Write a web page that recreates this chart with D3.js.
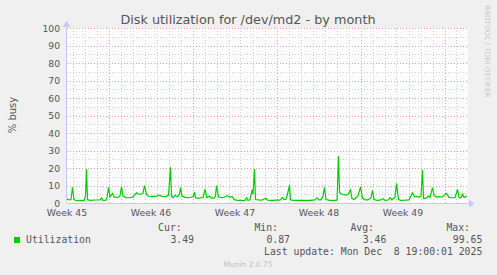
<!DOCTYPE html>
<html>
<head>
<meta charset="utf-8">
<script src="https://cdn.jsdelivr.net/npm/d3@7"></script>
<style>
  body { margin: 0; background: #f0f0f0; }
  svg { display: block; }
  text { font-family: "DejaVu Sans", sans-serif; fill: #555; }
  .mono { font-family: "DejaVu Sans Mono", monospace; }
</style>
</head>
<body>
<svg id="chart"></svg>
<script>
// hours since start of graph window (Nov 5 2025 19:00 -> Dec 8 2025 19:00)
const hours = [0, 4, 8, 11, 14, 18, 26, 34, 37, 39, 41, 46, 56, 66, 69, 72, 78, 80, 83, 86,
  91, 94, 98, 102, 106, 109, 112, 118, 126, 132, 139, 143, 147, 152, 155, 159, 162, 170, 178, 184,
  190, 198, 203, 207, 209, 212, 216, 220, 225, 227, 230, 236, 242, 248, 252, 255, 257, 262, 268, 272,
  276, 280, 285, 289, 294, 297, 299, 303, 308, 314, 321, 326, 330, 334, 340, 346, 352, 356, 359, 362,
  366, 370, 372, 375, 377, 383, 390, 398, 401, 410, 418, 426, 431, 434, 438, 441, 445, 447, 452, 466,
  476, 486, 496, 500, 504, 508, 512, 515, 518, 526, 534, 540, 543, 545, 550, 554, 558, 562, 567, 570,
  574, 578, 582, 587, 591, 596, 602, 608, 611, 614, 620, 626, 632, 636, 642, 646, 650, 656, 659, 663,
  668, 676, 684, 691, 695, 699, 704, 708, 711, 713, 718, 723, 726, 731, 734, 738, 744, 750, 759, 764,
  770, 776, 781, 784, 788, 791, 794, 797, 800];
const busy = [2.2, 1.8, 2, 9, 2, 1.3, 1.5, 1.4, 4, 19.3, 2, 1.5, 1.7, 1.8, 3, 1.5, 1.6, 3, 9, 3.5,
  5.5, 3.5, 3.2, 3.3, 4, 9.3, 4, 3, 3, 3.5, 5.8, 5, 5, 5.5, 9.9, 5, 4, 3.8, 3.8, 4.5,
  3.8, 3.7, 4.5, 20.4, 4, 3, 4.5, 3.5, 5, 9, 4, 3.2, 3, 3.3, 3.5, 6.2, 3, 2.7, 3, 3,
  7.8, 3, 4, 2.8, 2.8, 4, 9.9, 3.5, 3, 3.3, 4.2, 3.2, 3.7, 2, 1.5, 1.5, 1.4, 1.6, 3, 1.5,
  1.8, 7.5, 5, 19.4, 2, 1.8, 1.7, 2.7, 1.6, 1.5, 1.6, 1.6, 3.2, 2, 2.2, 5, 10.2, 1.8, 1.5, 1.5,
  1.5, 1.5, 1.8, 3, 1.8, 1.8, 4, 9, 2, 1.5, 1.5, 1.6, 26.9, 6, 5, 4.8, 4.5, 5, 7.5, 2.5,
  2, 3, 4, 9.2, 2.8, 1.8, 1.8, 3, 7.2, 2, 1.5, 1.6, 2.5, 1.5, 1.7, 3, 1.8, 3.5, 11.2, 2,
  1.5, 1.6, 1.8, 5.8, 3.5, 3.8, 3.3, 4, 18.9, 2.5, 2.8, 4, 3.2, 8.8, 4.5, 3.5, 3.6, 3.3, 5.5, 3.2,
  3, 3, 7.8, 3.2, 3, 5, 3.3, 3.5, 4];

const weekLabels = ["Week 45", "Week 46", "Week 47", "Week 48", "Week 49"];
const weekLabelHours = [0, 168, 336, 504, 672];
const weekGridHours = [83, 251, 419, 587, 755];
const yTicks = [0, 10, 20, 30, 40, 50, 60, 70, 80, 90, 100];

const legendHeads = ["Cur:", "Min:", "Avg:", "Max:"];
const legendValues = ["3.49", "0.87", "3.46", "99.65"];

const width = 497, height = 275;
const svg = d3.select("#chart").attr("width", width).attr("height", height);

const x = d3.scaleLinear().domain([0, 802]).range([67, 468]);
const y = d3.scaleLinear().domain([0, 100]).range([203, 28]);

// plot background
svg.append("rect").attr("x", 67).attr("y", 28).attr("width", 401).attr("height", 175).attr("fill", "#fff");

// minor grid
const minorX = d3.range(11, 802, 24);
svg.append("g").selectAll("line").data(minorX).enter().append("line")
  .attr("x1", d => Math.round(x(d)) + 0.5).attr("x2", d => Math.round(x(d)) + 0.5)
  .attr("y1", 28).attr("y2", 203)
  .attr("stroke", "#d0d0d0").attr("stroke-dasharray", "1,2");
const minorY = d3.range(5, 100, 10);
svg.append("g").selectAll("line").data(minorY).enter().append("line")
  .attr("x1", 67).attr("x2", 468)
  .attr("y1", d => Math.round(y(d)) + 0.5).attr("y2", d => Math.round(y(d)) + 0.5)
  .attr("stroke", "#d0d0d0").attr("stroke-dasharray", "1,2");

// major grid
svg.append("g").selectAll("line").data(weekGridHours).enter().append("line")
  .attr("x1", d => Math.round(x(d)) + 0.5).attr("x2", d => Math.round(x(d)) + 0.5)
  .attr("y1", 28).attr("y2", 203)
  .attr("stroke", "#eaa0a0").attr("stroke-dasharray", "1,2");
svg.append("g").selectAll("line").data(yTicks.slice(1)).enter().append("line")
  .attr("x1", 67).attr("x2", 468)
  .attr("y1", d => Math.round(y(d)) + 0.5).attr("y2", d => Math.round(y(d)) + 0.5)
  .attr("stroke", "#eaa0a0").attr("stroke-dasharray", "1,2");

// y labels
svg.append("g").selectAll("text").data(yTicks).enter().append("text")
  .attr("x", 60).attr("y", d => y(d) + 3.5)
  .attr("text-anchor", "end").attr("font-size", 9.2)
  .text(d => d);

// x labels
svg.append("g").selectAll("text").data(weekLabels).enter().append("text")
  .attr("x", (d, i) => x(weekLabelHours[i])).attr("y", 215.5)
  .attr("text-anchor", "middle").attr("font-size", 9.3)
  .text(d => d);

// data line
const line = d3.line().x((d, i) => x(hours[i])).y(d => y(d));
svg.append("path").datum(busy)
  .attr("d", line).attr("fill", "none")
  .attr("stroke", "#00cc00").attr("stroke-width", 1.2);

// axes with arrows
const axisCol = "#c8c8f8";
svg.append("line").attr("x1", 67).attr("x2", 470).attr("y1", 203.5).attr("y2", 203.5)
  .attr("stroke", axisCol);
svg.append("line").attr("x1", 66.5).attr("x2", 66.5).attr("y1", 24).attr("y2", 203)
  .attr("stroke", axisCol);
svg.append("path").attr("d", "M469,199.5 L474.5,203.5 L469,207.5 Z").attr("fill", axisCol);
svg.append("path").attr("d", "M62.5,27 L66.5,21 L70.5,27 Z").attr("fill", axisCol);

// title
svg.append("text").attr("x", 248).attr("y", 24).attr("text-anchor", "middle")
  .attr("font-size", 12.8).text("Disk utilization for /dev/md2 - by month");

// y axis title
svg.append("text").attr("transform", "translate(15.5,115) rotate(-90)")
  .attr("text-anchor", "middle").attr("font-size", 10).text("% busy");

// watermark
svg.append("text").attr("transform", "translate(485,5) rotate(90)")
  .attr("font-size", 7.2).style("fill", "#c8c8c8").text("RRDTOOL / TOBI OETIKER");

// legend
svg.append("rect").attr("x", 14).attr("y", 237).attr("width", 6).attr("height", 6).attr("fill", "#00cc00");
svg.append("text").attr("class", "mono").attr("x", 26).attr("y", 243).attr("font-size", 9.8).text("Utilization");
const headX = [181.7, 278, 374, 470];
const valX = [194, 290, 386.3, 482.3];
svg.append("g").selectAll("text").data(legendHeads).enter().append("text")
  .attr("class", "mono").attr("x", (d, i) => headX[i]).attr("y", 231)
  .attr("text-anchor", "end").attr("font-size", 9.8).text(d => d);
svg.append("g").selectAll("text").data(legendValues).enter().append("text")
  .attr("class", "mono").attr("x", (d, i) => valX[i]).attr("y", 243)
  .attr("text-anchor", "end").attr("font-size", 9.8).text(d => d);
svg.append("text").attr("class", "mono").attr("x", 482.3).attr("y", 254.5)
  .attr("text-anchor", "end").attr("font-size", 9.8).attr("xml:space", "preserve")
  .style("white-space", "pre")
  .text("Last update: Mon Dec  8 19:00:01 2025");

svg.append("text").attr("x", 248).attr("y", 267).attr("text-anchor", "middle")
  .attr("font-size", 7.5).style("fill", "#c0c0c0").text("Munin 2.0.75");
</script>
</body>
</html>
